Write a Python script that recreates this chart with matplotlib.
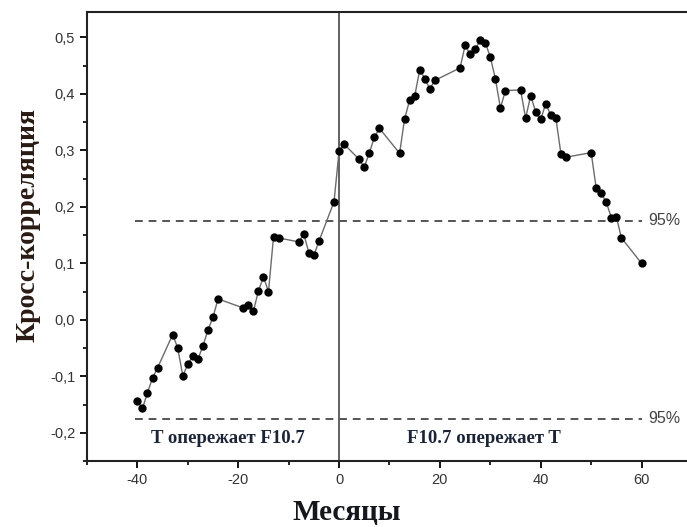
import matplotlib
matplotlib.use("Agg")
import matplotlib.pyplot as plt
from matplotlib.ticker import MultipleLocator, FuncFormatter

# lag in months and cross-correlation values
months = [-40, -39, -38, -37, -36, -33, -32, -31, -30, -29, -28, -27, -26, -25, -24,
          -19, -18, -17, -16, -15, -14, -13, -12, -8, -7, -6, -5, -4, -1,
          0, 1, 4, 5, 6, 7, 8, 12, 13, 14, 15, 16, 17, 18, 19,
          24, 25, 26, 27, 28, 29, 30, 31, 32, 33, 36, 37, 38, 39, 40, 41, 42, 43,
          44, 45, 50, 51, 52, 53, 54, 55, 56, 60]
corr = [-0.144, -0.157, -0.129, -0.103, -0.085, -0.026, -0.050, -0.099, -0.079, -0.064,
        -0.070, -0.046, -0.018, 0.005, 0.037,
        0.021, 0.027, 0.015, 0.051, 0.076, 0.050, 0.147, 0.145, 0.138, 0.152, 0.119,
        0.114, 0.139, 0.209,
        0.299, 0.311, 0.284, 0.270, 0.296, 0.323, 0.339, 0.295, 0.356, 0.389, 0.396,
        0.443, 0.427, 0.409, 0.424,
        0.446, 0.486, 0.470, 0.479, 0.495, 0.491, 0.465, 0.427, 0.375, 0.406, 0.407,
        0.357, 0.397, 0.368, 0.355, 0.383, 0.362, 0.357,
        0.294, 0.288, 0.296, 0.233, 0.224, 0.208, 0.181, 0.182, 0.145, 0.100]

conf_level = 0.175   # 95% confidence bound
conf_label = "95%"
left_text = "T опережает F10.7"
right_text = "F10.7 опережает T"

fig = plt.figure(figsize=(6.87, 5.27), dpi=100)
ax = fig.add_axes([0.1266, 0.1252, 0.8807, 0.852])

ax.plot(months, corr, color="#6b6b6b", lw=1.0, zorder=2)
ax.plot(months, corr, "o", color="black", ms=5, zorder=3)

# confidence lines
for lvl in (conf_level, -conf_level):
    ax.plot([-40.5, 60], [lvl, lvl], ls=(0, (4, 3)), color="#555555", lw=1.4, zorder=1)
    ax.text(61.3, lvl, conf_label, fontsize=11.5, color="#444444",
            family="Liberation Sans", va="center", ha="left")

ax.axvline(0, color="#555555", lw=1.3, zorder=1)

ax.text(-22, -0.211, left_text, fontsize=13.5, fontweight="bold", family="Liberation Serif",
        color="#1c2538", ha="center", va="center")
ax.text(28.8, -0.211, right_text, fontsize=13.5, fontweight="bold", family="Liberation Serif",
        color="#1c2538", ha="center", va="center")

ax.set_xlim(-50, 70)
ax.set_ylim(-0.25, 0.545)
ax.xaxis.set_major_locator(MultipleLocator(20))
ax.xaxis.set_minor_locator(MultipleLocator(10))
ax.yaxis.set_major_locator(MultipleLocator(0.1))
ax.yaxis.set_minor_locator(MultipleLocator(0.05))
ax.yaxis.set_major_formatter(FuncFormatter(lambda v, p: ("%.1f" % v).replace(".", ",").replace("-0,0", "0,0")))
ax.xaxis.set_major_formatter(FuncFormatter(lambda v, p: "%d" % v))

ax.tick_params(axis="both", which="major", direction="out", length=5, width=1.3,
               labelsize=10.5, labelcolor="#333333")
ax.tick_params(axis="both", which="minor", direction="out", length=3, width=1.2)
for lbl in ax.get_xticklabels() + ax.get_yticklabels():
    lbl.set_family("Liberation Sans")

for s in ax.spines.values():
    s.set_linewidth(1.5)
    s.set_color("#222222")

fig.text(0.505, 0.028, "Месяцы", fontsize=21, fontweight="bold", family="Liberation Serif",
         color="#15171c", ha="center", va="center")
fig.text(0.041, 0.573, "Кросс-корреляция", fontsize=20, fontweight="bold", family="Liberation Serif",
         color="#2a1a14", ha="center", va="center", rotation=90)

fig.savefig("out.png", dpi=100)
